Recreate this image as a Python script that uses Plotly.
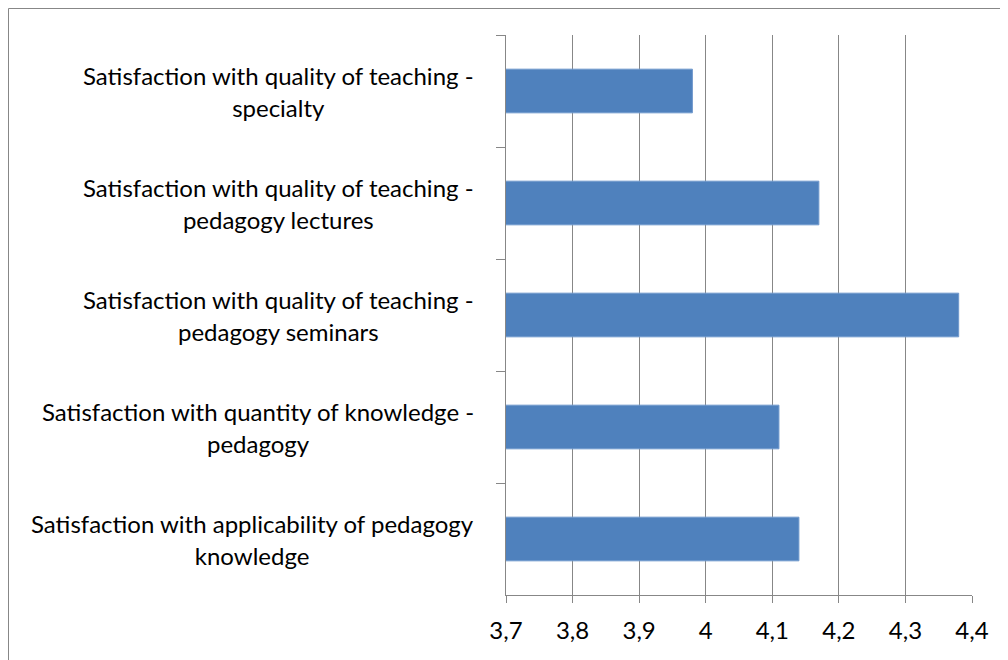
import plotly.graph_objects as go

# Data (top to bottom)
line1 = [
    "Satisfaction with quality of teaching -",
    "Satisfaction with quality of teaching -",
    "Satisfaction with quality of teaching -",
    "Satisfaction with quantity of knowledge -",
    "Satisfaction with applicability of pedagogy",
]
line2 = [
    "specialty",
    "pedagogy lectures",
    "pedagogy seminars",
    "pedagogy",
    "knowledge",
]
values = [3.98, 4.17, 4.38, 4.11, 4.14]
x_ticks = [3.7, 3.8, 3.9, 4.0, 4.1, 4.2, 4.3, 4.4]
categories = [a + " " + b for a, b in zip(line1, line2)]

# page body has an 8px margin, so the figure is 8px smaller
W, H = 1000, 652
ML, MR, MT, MB = 498, 36, 27, 65
FONT = "Lato"
FS = 24
GRAY = "#878787"

fig = go.Figure(go.Bar(
    x=values, y=categories, orientation="h",
    marker=dict(color="#4F81BD", line=dict(color="#6F98CC", width=1)),
    width=0.39,
))

ann = []
for i, (a, b) in enumerate(zip(line1, line2)):
    ann.append(dict(x=3.7, y=categories[i], xref="x", yref="y", text=a,
                    showarrow=False, xanchor="right", yanchor="middle",
                    xshift=-30, yshift=16, font=dict(family=FONT, size=FS, color="#000")))
    ann.append(dict(x=3.7, y=categories[i], xref="x", yref="y",
                    text="<span style='color:rgba(0,0,0,0)'>" + a + "</span><br>" + b,
                    showarrow=False, xanchor="right", yanchor="middle", align="center",
                    xshift=-30, yshift=-0.5, font=dict(family=FONT, size=FS, color="#000")))

pw = W - ML - MR
ph = H - MT - MB
def px_to_paper_x(px):
    return (px - ML) / pw
def px_to_paper_y(py):
    return 1 - (py - MT) / ph

shapes = [
    dict(type="line", xref="paper", yref="paper",
         x0=px_to_paper_x(0.5), x1=px_to_paper_x(0.5), y0=px_to_paper_y(0.5), y1=px_to_paper_y(700),
         line=dict(color=GRAY, width=1)),
    dict(type="line", xref="paper", yref="paper",
         x0=px_to_paper_x(0.5), x1=px_to_paper_x(998.5), y0=px_to_paper_y(0.5), y1=px_to_paper_y(0.5),
         line=dict(color=GRAY, width=1)),
    dict(type="line", xref="paper", yref="paper",
         x0=px_to_paper_x(998.5), x1=px_to_paper_x(998.5), y0=px_to_paper_y(0.5), y1=px_to_paper_y(700),
         line=dict(color=GRAY, width=1)),
]

fig.update_layout(
    width=W, height=H,
    margin=dict(l=ML, r=MR, t=MT, b=MB),
    paper_bgcolor="white", plot_bgcolor="white",
    separators=", ",
    showlegend=False,
    font=dict(family=FONT, size=FS, color="#000"),
    annotations=ann,
    shapes=shapes,
    xaxis=dict(range=[3.7, 4.4], tickvals=x_ticks, showgrid=True, gridcolor=GRAY, gridwidth=1,
               showline=True, linecolor=GRAY, linewidth=1, ticks="outside", ticklen=7,
               tickcolor=GRAY, zeroline=False, tickfont=dict(family=FONT, size=FS, color="#000"),
               ticklabelstandoff=7),
    yaxis=dict(autorange=False, range=[4.5, -0.5], categoryorder="array", categoryarray=categories,
               showticklabels=False, showline=True, linecolor=GRAY, linewidth=1,
               ticks="outside", ticklen=9, tickcolor=GRAY, tickson="boundaries",
               showgrid=False, zeroline=False),
)

fig.write_html("out.html")
